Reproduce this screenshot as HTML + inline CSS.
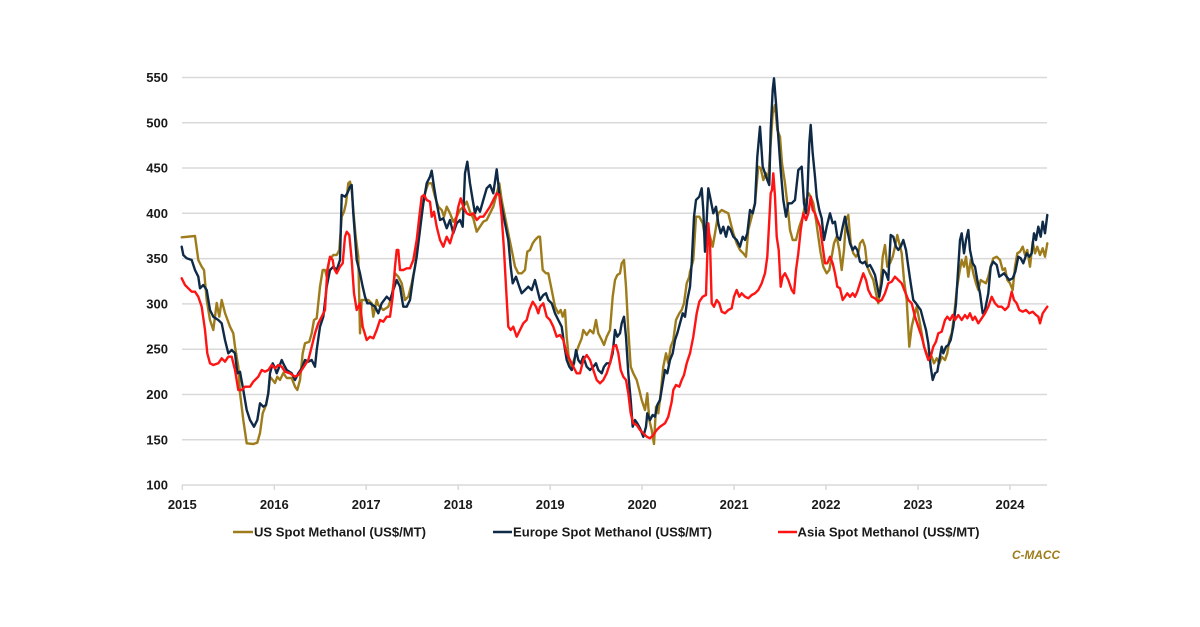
<!DOCTYPE html>
<html>
<head>
<meta charset="utf-8">
<style>
html,body{margin:0;padding:0;background:#fff;}
svg{display:block;}
text{font-family:"Liberation Sans",Arial,sans-serif;font-weight:bold;fill:#1a1a1a;}
</style>
</head>
<body>
<svg width="1200" height="627" viewBox="0 0 1200 627" xmlns="http://www.w3.org/2000/svg">
<rect width="1200" height="627" fill="#fff"/>
<g stroke="#d9d9d9" stroke-width="1.5">
<line x1="182" y1="77.5" x2="1047" y2="77.5"/>
<line x1="182" y1="122.8" x2="1047" y2="122.8"/>
<line x1="182" y1="168" x2="1047" y2="168"/>
<line x1="182" y1="213.3" x2="1047" y2="213.3"/>
<line x1="182" y1="258.6" x2="1047" y2="258.6"/>
<line x1="182" y1="303.9" x2="1047" y2="303.9"/>
<line x1="182" y1="349.2" x2="1047" y2="349.2"/>
<line x1="182" y1="394.5" x2="1047" y2="394.5"/>
<line x1="182" y1="439.8" x2="1047" y2="439.8"/>
<line x1="182" y1="485" x2="1047" y2="485"/>
<line x1="182.3" y1="485" x2="182.3" y2="490"/>
<line x1="274.3" y1="485" x2="274.3" y2="490"/>
<line x1="366.2" y1="485" x2="366.2" y2="490"/>
<line x1="458.2" y1="485" x2="458.2" y2="490"/>
<line x1="550.2" y1="485" x2="550.2" y2="490"/>
<line x1="642.1" y1="485" x2="642.1" y2="490"/>
<line x1="734.1" y1="485" x2="734.1" y2="490"/>
<line x1="826" y1="485" x2="826" y2="490"/>
<line x1="918" y1="485" x2="918" y2="490"/>
<line x1="1010" y1="485" x2="1010" y2="490"/>
</g>
<g font-size="13" text-anchor="end">
<text x="168" y="82">550</text>
<text x="168" y="127.3">500</text>
<text x="168" y="172.5">450</text>
<text x="168" y="217.8">400</text>
<text x="168" y="263.1">350</text>
<text x="168" y="308.4">300</text>
<text x="168" y="353.7">250</text>
<text x="168" y="399">200</text>
<text x="168" y="444.3">150</text>
<text x="168" y="489.5">100</text>
</g>
<g font-size="13" text-anchor="middle">
<text x="182.3" y="509">2015</text>
<text x="274.3" y="509">2016</text>
<text x="366.2" y="509">2017</text>
<text x="458.2" y="509">2018</text>
<text x="550.2" y="509">2019</text>
<text x="642.1" y="509">2020</text>
<text x="734.1" y="509">2021</text>
<text x="826" y="509">2022</text>
<text x="918" y="509">2023</text>
<text x="1010" y="509">2024</text>
</g>
<g fill="none" stroke-width="2.4" stroke-linejoin="round" stroke-linecap="round">
<polyline stroke="#9e7c1b" points="181.7,237.3 195,236 198.3,260 201.7,266.7 204,270 206.7,300 210,320 213.3,330 215,316.7 216.7,303 219.3,316.7 221.7,300 225,313 230,326.7 233.3,333.3 235,346.7 238.3,366.7 240,393 243.3,420 246.7,443.3 253.3,444 257.3,442.7 260,433 262.7,413.3 266,405 268.3,393 270,376.7 272.7,380 275,383 277.3,376.7 280,380 283.3,373 286.7,378 291.7,378 295,386.7 297.3,390 300,380 302.7,353.3 305,343.3 309.3,341.7 311.7,333.3 314,320 316.7,318.3 320,286.7 322.7,270 325,270 326.7,276.7 329.3,260 333.3,255 336.7,255 339.3,250 341.7,216.7 344,211.7 346,203.3 348.3,183.3 350,181.7 351.7,190 353.3,210 355.7,236.7 358.3,256.7 360,333.3 361.7,300 365,300 368.3,300 371.7,303.3 373.3,316.7 376.7,300 378.3,305 383.3,310 388.3,306.7 391.7,296.7 395,273.3 398.3,276.7 401.7,283.3 405,300 408.3,296.7 411.7,283.3 415,266.7 418.3,240 421.7,213.3 425,193.3 428.3,183.3 431.7,183.3 435,196.7 438.3,206.7 441.7,210 444,216.7 446.7,206.7 450,213.3 453.3,221.7 456.7,216.7 460,210 463.3,206.7 466.7,201.7 470,211.7 473.3,218.3 476.7,231.7 480,226.7 483.3,221.7 486.7,220 490,213.3 493.3,206.7 496,196.7 499.3,183.3 501.7,200 505,216.7 508.3,233.3 511.7,250 515,266.7 518.3,273.3 521.7,273.3 525,270 527.3,251.7 530,250 532.7,243.3 535,240 538.3,236.7 540,236.7 542.7,270 546,273.3 548.3,273.3 551.7,290 555,306.7 558.3,313.3 560.7,310 562.7,316.7 565,310 566.7,336.7 569.3,363.3 571.7,366.7 575,356.7 578.3,346.7 581.7,338.3 583.3,330 586.7,335 590,330 593.3,333.3 596,320 598.3,333.3 601.7,340 604,345 606.7,336.7 610,330 612.7,296.7 615,280 617.3,275 620,273.3 621.7,263.3 624,260 626,286.7 628.3,330 630.7,366.7 633.3,373.3 636.7,380 639.3,390 641.7,400 645,410 647.3,393.3 649.3,420 651.7,430 654,444 656,406.7 658.3,413.3 660.7,393.3 663.3,366.7 666,353.3 668.3,363.3 670.7,346.7 673.3,340 676,320 679.3,313.3 681.7,310 684,303.3 686.7,283.3 689.3,276.7 690,271.7 693.3,260 696,216.7 699.3,216.7 702.7,223.3 705,236.7 707.3,226.7 710,236.7 712.7,246.7 715,233.3 718.3,213.3 721.7,210 725,211.7 728.3,213.3 730.7,223.3 733.3,233.3 736.7,243.3 740,250 743.3,253.3 746,256.7 748.3,230 751.7,216.7 755,203.3 758.3,166.7 760.7,168.3 763.3,180 766,173.3 768.3,180 770.7,143.3 772.7,113.3 775,105 777.3,130 780,136.7 782,163.3 785,183.3 787.3,203.3 790,230 792.7,240 796,240 799.3,226.7 802.7,216.7 806,200 808.7,193.3 810.7,196.7 813.3,203.3 816,220 818.3,236.7 820.7,253.3 823.3,266.7 826.7,273.3 829.3,270 831.7,256.7 834,243.3 836.7,236.7 839.3,250 841.7,270 844,250 846,220 848.3,215 850.7,243.3 853.3,253.3 856,256.7 858.3,253.3 860,243.3 862.7,240 865,246.7 867.3,266.7 870,273.3 873.3,280 876,293.3 878.3,303.3 880.7,283.3 882.7,256.7 885,245 887.3,266.7 890,263.3 892.7,256.7 895,246.7 897.3,235 899.3,243.3 901.7,253.3 904,280 906.7,300 909.3,346.7 911.7,326.7 914,316.7 916.7,306.7 919.3,320 921.7,333.3 924,346.7 926.7,353.3 929.3,360 931.7,356.7 934,363.3 936.7,358.3 939.3,363.3 941.7,356.7 945,360 947.3,353.3 949.3,340 951.7,333.3 954,316.7 956.7,290 959.3,273.3 961.7,260 964,266.7 966,256.7 968.3,276.7 970.7,260 973.3,273.3 976,283.3 978.3,290 980.7,280 983.3,281.7 986,283.3 988.3,276.7 990.7,266.7 993.3,258.3 996.7,256.7 1000,260 1002.7,270 1005,268.3 1007.3,280 1010,283.3 1012.7,290 1015,266.7 1017.3,253.3 1020,251.7 1022.7,246.7 1025,255 1027.3,250 1030,266.7 1032.7,241.7 1035,253.3 1037.3,246.7 1040,255 1042.7,248.3 1045,256.7 1047.3,243.3"/>
<polyline stroke="#0f2a47" points="181.7,246.7 183.3,255 186.7,258.3 191.7,260 195,270 198.3,276.7 200,288.3 203.3,285 206.7,290 210,310 213.3,316.7 218.3,320 221.7,323.3 225,340 228.3,353.3 231.7,350 235,353.3 237.3,373.3 240,371.7 243.3,390 246.7,410 250,420 254,426.7 257.3,420 260,403.3 263.3,406.7 266,405 268.3,393.3 270,373.3 272.7,363.3 275,368.3 276.7,373.3 279.3,366.7 281.7,360 284,365 286.7,370 291.7,373.3 295,380 298.3,373.3 301.7,368.3 305,360 308.3,361.7 311.7,360 315,366.7 316.7,350 320,326.7 323.3,316.7 326.7,286.7 330,270 333.3,266.7 336.7,270 340,260 341.7,195 345,196.7 347.3,193.3 350,186.7 351.7,185 353.3,213.3 356.7,260 360,273.3 362.7,286.7 365,296.7 367.3,303.3 370,303.3 375,306.7 378.3,313.3 381.7,303.3 386.7,296.7 390,300 393.3,290 396.7,280 400,286.7 403.3,306.7 406.7,306.7 410,300 413.3,276.7 416.7,256.7 420,230 423.3,203.3 426.7,183.3 430,176.7 431.7,170.7 434,186.7 436.7,203.3 440,220 443.3,218.3 446.7,228.3 450,220 453.3,233.3 456.7,223.3 460,220 462.7,226.7 465,173.3 467.3,161.7 470,183.3 472.7,200 475,213.3 477.3,206.7 480,211.7 483.3,200 486.7,188.3 490,185 493.3,193.3 496.7,169.3 499.3,193.3 501.7,206.7 505,223.3 508.3,240 510.7,266.7 512.7,283.3 516,276.7 519.3,286.7 521.7,293.3 525,290 528.3,286.7 531.7,290 535,280 538.3,293.3 540,300 543.3,295 546,293.3 548.3,300 551.7,303.3 555,313.3 558.3,320 561.7,326.7 564,343.3 566.7,360 569.3,366.7 571.7,370 574,363.3 576,350 578.3,360 580.7,363.3 583.3,356.7 586.7,366.7 590,370 593.3,366.7 596,363.3 598.3,370 601.7,373.3 604,366.7 606.7,363.3 610,363.3 612.7,353.3 615,330 617.3,336.7 620,333.3 621.7,323.3 624,316.7 626,336.7 628.3,373.3 630.7,400 632.7,426.7 635,420 637.3,423.3 640,428.3 643.3,436.7 646,426.7 647.3,413.3 650,420 652.7,415 655,416.7 657.3,405 660,400 662.7,383.3 665,370 667.3,373.3 670,360 672.7,353.3 675,340 677.3,333.3 680,323.3 682.7,313.3 685,316.7 687.3,300 690,286.7 691.7,263.3 694,216.7 696,200 699.3,196.7 701.7,188.3 703.3,210 705,251.7 706.7,220 708.3,188.3 710.7,200 713.3,213.3 716,206.7 718.3,223.3 720.7,233.3 723.3,226.7 726,236.7 728.3,226.7 730.7,230 733.3,236.7 736.7,240 740,246.7 742.7,236.7 745,240 747.3,233.3 750,210 752.7,213.3 755,203.3 757.3,156.7 760,126.7 762.7,166.7 765,173.3 767.3,180 769.3,185 770.7,130 772.7,90 774,78.3 776,103.3 778.3,136.7 780.7,170 783.3,200 786,216.7 788.3,203.3 791.7,203.3 795,200 798.3,170 801.7,166.7 804,203.3 806,213.3 807.3,196.7 809.3,143.3 810.7,125 812.7,153.3 815,176.7 816.7,196.7 819.3,210 821.7,218.3 824,240 826.7,226.7 830,213.3 832.7,223.3 835,221.7 837.3,236.7 840,240 842.7,226.7 845,216.7 847.3,230 850,243.3 852.7,250 855,246.7 857.3,250 860,261.7 862.7,263.3 865,261.7 867.3,266.7 870,265 872.7,270 875,275 877.3,286.7 879.3,296.7 881.7,283.3 883.3,270 886,273.3 888.3,280 890.7,235 893.3,236.7 896,246.7 898.3,250 900.7,246.7 903.3,240 906,250 908.3,266.7 910.7,283.3 913.3,300 916,303.3 918.3,306.7 920.7,310 923.3,320 926,330 928.3,343.3 930.7,366.7 932.7,380 935,373.3 937.3,371.7 939.3,360 941.7,346.7 943.3,353.3 946,346.7 948.3,345 950.7,340 953.3,326.7 956,303.3 958.3,266.7 960,240 961.7,233.3 964,253.3 966,240 968.3,230 970,250 972.7,263.3 975,266.7 977.3,280 980,293.3 982.7,313.3 985,310 988.3,293.3 990.7,266.7 993.3,261.7 996.7,265 999.3,276.7 1001.7,275 1004,273.3 1006.7,276.7 1009.3,280 1012.7,278.3 1015.3,271.7 1018.3,256.7 1020.7,258.3 1023.3,263.3 1026.7,253.3 1029.3,256.7 1031.7,253.3 1034,233.3 1036,240 1038.3,226.7 1040.7,236.7 1042.7,221.7 1045,233.3 1047.3,215"/>
<polyline stroke="#ff1414" points="181.7,278.3 185,285 188.3,288.3 191.7,291.7 195,291.7 198.3,296.7 201.7,306.7 205,330 207.3,353.3 210,363.3 213.3,365 218.3,363.3 221.7,358.3 225,361.7 228.3,356.7 231.7,356.7 235,370 238.3,390 241.7,390 245,386.7 250,386.7 253.3,381.7 258.3,376.7 261.7,370 265,371.7 268.3,370 271.7,365 275,368.3 278.3,365 281.7,366.7 285,371.7 290,373.3 295,376.7 298.3,375 301.7,370 305,365 308.3,360 311.7,346.7 315,333.3 318.3,323.3 321.7,316.7 325,310 327.3,270 330,256.7 332.7,260 334,268.3 336.7,273.3 340,266.7 342.7,263.3 345,236.7 346.7,231.7 349.3,235 351.7,260 354,293.3 356.7,310 360,303.3 362.7,326.7 366.7,340 370,336.7 373.3,338.3 376.7,330 380,320 383.3,321.7 386.7,316.7 390,316.7 392.7,296.7 395,266.7 396.7,250 398.3,250 400,270 403.3,270 406.7,268.3 410,268.3 413.3,260 416.7,240 419.3,216.7 421.7,196.7 424,195 426.7,200 430,201.7 431.7,216.7 434,211.7 436.7,226.7 440,240 443.3,246.7 446.7,236.7 450,243.3 453.3,231.7 456,220 458.3,206.7 460.7,198.3 463.3,206.7 466.7,213.3 470,215 473.3,213.3 476.7,220 480,216.7 483.3,216.7 486.7,211.7 490,206.7 493.3,200 496.7,193.3 499.3,195 501.7,216.7 504,250 506,286.7 508.3,326.7 510.7,330 513.3,326.7 516.7,336.7 520,330 523.3,323.3 526.7,320 529.3,310 532.7,301.7 536,306.7 538.3,313.3 540,306.7 543.3,303.3 546.7,316.7 550,320 553.3,326.7 556.7,336.7 560,335 563.3,340 566.7,353.3 570,360 573.3,366.7 576.7,373.3 580,373.3 583.3,360 586.7,355 590,360 593.3,370 596.7,380 600,383.3 603.3,380 606.7,373.3 610,363.3 613.3,346.7 616,345 618.3,353.3 620.7,370 623.3,376.7 626,380 628.3,393.3 630.7,413.3 633.3,423.3 636.7,425 640,430 643.3,433.3 646.7,436.7 650,438.3 653.3,435 656.7,430 660,426.7 665,423.3 668.3,416.7 671.7,401.7 673.3,390 676,385 679.3,386.7 681.7,380 684,375 686.7,363.3 690,353.3 693.3,336.7 696.7,313.3 699.3,301.7 702.7,296.7 706,295 708.3,223.3 710,243.3 711.7,303.3 714,306.7 716.7,300 719.3,303.3 721.7,311.7 725,313.3 728.3,310 731.7,308.3 734,296.7 736.7,290 739.3,296.7 741.7,293.3 745,296.7 748.3,298.3 751.7,295 755,293.3 758.3,290 761.7,283.3 765,273.3 767.3,256.7 769.3,220 770.7,193.3 772,190 773.3,173.3 775,196.7 776.7,236.7 778.7,250 780.7,286.7 782.7,276.7 785,273.3 788.3,280 791.7,290 794,293.3 796,270 798.3,253.3 800.7,230 803.3,213.3 806,220 808.3,213.3 810.7,196.7 812.7,210 815,213.3 817.3,220 820,226.7 822.7,246.7 825,263.3 827.3,263.3 830,256.7 832.7,263.3 835,273.3 837.3,286.7 840,288.3 842.7,300 845,296.7 847.3,293.3 850,296.7 852.7,293.3 855,296.7 857.3,291.7 860,283.3 863.3,273.3 866,280 868.3,290 871.7,296.7 875,298.3 878.3,301.7 881.7,300 885,293.3 888.3,283.3 891.7,281.7 895,276.7 898.3,280 901.7,283.3 905,291.7 908.3,300 911.7,303.3 915,316.7 918.3,326.7 921.7,336.7 925,350 928.3,360 930.7,356.7 933.3,346.7 936,341.7 938.3,333.3 941.7,331.7 945,320 947.3,316.7 950,320 952.7,315 955,320 958.3,315 961.7,320 965,315 967.3,318.3 970,313.3 972.7,320 975,316.7 978.3,323.3 981.7,318.3 985,313.3 988.3,306.7 991.7,296.7 995,303.3 998.3,306.7 1001.7,306.7 1005,310 1008.3,306.7 1011.7,291.7 1014,300 1016.7,303.3 1019.3,310 1022.7,311.7 1026,310 1029.3,313.3 1032.7,311.7 1036,315 1038.3,316.7 1040,323.3 1042.7,313.3 1045,310 1047.3,306.7"/>
</g>
<g stroke-width="2.4">
<line x1="233" y1="532" x2="253" y2="532" stroke="#9e7c1b"/>
<line x1="493" y1="532" x2="512" y2="532" stroke="#0f2a47"/>
<line x1="778" y1="532" x2="797" y2="532" stroke="#ff1414"/>
</g>
<g font-size="12.5">
<text x="254" y="536.5" textLength="172" lengthAdjust="spacingAndGlyphs">US Spot Methanol (US$/MT)</text>
<text x="513" y="536.5" textLength="199" lengthAdjust="spacingAndGlyphs">Europe Spot Methanol (US$/MT)</text>
<text x="797.5" y="536.5" textLength="182" lengthAdjust="spacingAndGlyphs">Asia Spot Methanol (US$/MT)</text>
</g>
<text x="1012" y="559" font-size="12" font-style="italic" style="fill:#9e7c1b" textLength="48" lengthAdjust="spacingAndGlyphs">C-MACC</text>
</svg>
</body>
</html>
